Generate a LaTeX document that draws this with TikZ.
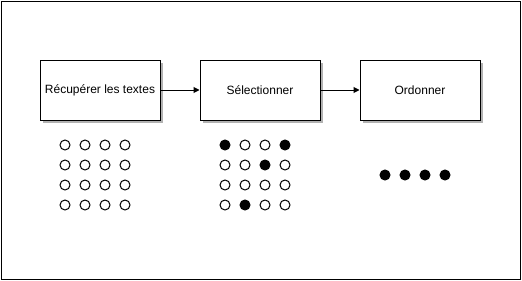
\documentclass[tikz,border=0pt]{standalone}
\usepackage{fontspec}
\setmainfont{Liberation Sans}
\usetikzlibrary{arrows.meta,shadows}
\begin{document}
\begin{tikzpicture}[x=1pt,y=-1pt,
  stepbox/.style={draw=black,line width=1pt,fill=white,minimum width=120pt,minimum height=60pt,inner sep=0pt,
    font=\fontsize{12}{14}\selectfont,
    drop shadow={shadow xshift=3pt,shadow yshift=-3pt,fill=black!30,opacity=1}},
  conn/.style={draw=black,line width=1pt,-{Triangle[length=6pt,width=6pt]}},
  dotopen/.style={circle,draw=black,line width=1pt,fill=white,minimum size=10pt,inner sep=0pt},
  dotfull/.style={circle,draw=black,line width=1pt,fill=black,minimum size=10pt,inner sep=0pt}]
\useasboundingbox (0,0) rectangle (522,281);
\draw[line width=1pt] (1,1) rectangle (520,279);
\node[stepbox] (a) at (100,90) {Récupérer les textes};
\node[stepbox] (b) at (260,90) {Sélectionner};
\node[stepbox] (c) at (420,90) {Ordonner};
\draw[conn] (a) -- (b);
\draw[conn] (b) -- (c);
% grid 1
\foreach \i in {0,1,2,3}{
  \foreach \j in {0,1,2,3}{
    \node[dotopen] (g1-\i-\j) at (65+20*\i,145+20*\j) {};
  }
}
% grid 2
\foreach \i/\j/\s in {0/0/dotfull,1/0/dotopen,2/0/dotopen,3/0/dotfull,
  0/1/dotopen,1/1/dotopen,2/1/dotfull,3/1/dotopen,
  0/2/dotopen,1/2/dotopen,2/2/dotopen,3/2/dotopen,
  0/3/dotopen,1/3/dotfull,2/3/dotopen,3/3/dotopen}{
  \node[\s] (g2-\i-\j) at (225+20*\i,145+20*\j) {};
}
% row 3
\foreach \i in {0,1,2,3}{
  \node[dotfull] (g3-\i) at (385+20*\i,175) {};
}
\end{tikzpicture}
\end{document}
